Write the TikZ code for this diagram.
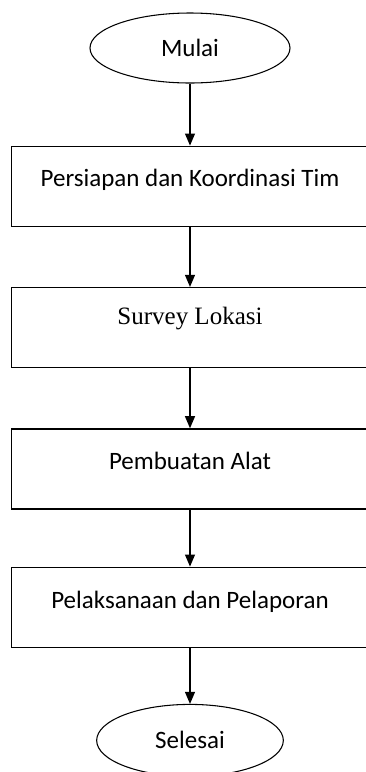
\documentclass[tikz,border=0pt]{standalone}
\usepackage{fontspec}
\setmainfont{Carlito}
\newfontfamily\timesfont{Liberation Serif}
\usepackage{tikz}
\usetikzlibrary{shapes.geometric,positioning,arrows.meta}

\begin{document}
\begin{tikzpicture}[terminal/.style={ellipse, draw, line width=0.8pt, inner sep=0pt, font=\fontsize{18.75}{22}\selectfont},
  process/.style={rectangle, draw, line width=1pt, inner xsep=0pt, inner ysep=0pt, minimum width=268pt, text height=#1, text depth=60pt-#1, font=\fontsize{18.75}{22}\selectfont},
  flow/.style={-{Triangle[length=9pt,width=7.5pt]}, line width=0.8pt}]

\useasboundingbox (-142.5pt,36pt) rectangle (132pt,-543pt);

% NODES

\node [terminal, minimum width=150pt, minimum height=52.5pt] (mulai) {Mulai};

\node [process=30pt, below=46.5pt of mulai] (persiapan) {Persiapan dan Koordinasi Tim};

\node [process=27.75pt, below=45pt of persiapan, font=\timesfont\fontsize{18.75}{22}\selectfont] (survey) {Survey Lokasi};

\node [process=30.75pt, below=45pt of survey] (pembuatan) {Pembuatan Alat};

\node [process=30.75pt, below=42.75pt of pembuatan] (pelaksanaan) {Pelaksanaan dan Pelaporan};

\node [terminal, minimum width=140pt, minimum height=54pt, below=42pt of pelaksanaan] (selesai) {Selesai};

% ARROWS

\draw [flow] (mulai) -- (persiapan);
\draw [flow] (persiapan) -- (survey);
\draw [flow] (survey) -- (pembuatan);
\draw [flow] (pembuatan) -- (pelaksanaan);
\draw [flow] (pelaksanaan) -- (selesai);

\end{tikzpicture}
\end{document}
